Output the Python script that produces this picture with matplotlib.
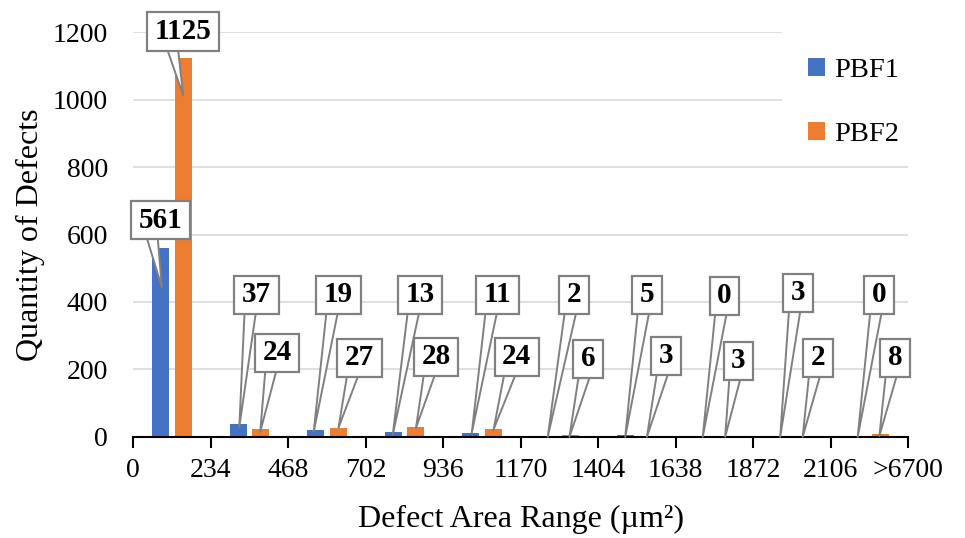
import matplotlib
matplotlib.use("Agg")
import matplotlib.pyplot as plt
import numpy as np
from matplotlib.patches import Rectangle
from matplotlib.path import Path

plt.rcParams['font.family'] = ['Liberation Serif', 'DejaVu Serif']

# bin edges shown on the x axis and defect counts per bin
edge_labels = ['0', '234', '468', '702', '936', '1170', '1404', '1638', '1872', '2106', '>6700']
pbf1 = [561, 37, 19, 13, 11, 2, 5, 0, 3, 0]
pbf2 = [1125, 24, 27, 28, 24, 6, 3, 3, 2, 8]

# callout placement: (box x, box y, tip x, tip y) in data units
pbf1_callouts = [(0.35, 643, 0.37, 444), (1.59, 421, 1.37, 30), (2.65, 421, 2.33, 15),
                 (3.70, 421, 3.35, 6), (4.70, 421, 4.37, 12), (5.69, 421, 5.35, 0),
                 (6.63, 421, 6.35, 0), (7.63, 418, 7.35, 0), (8.58, 427, 8.35, 0),
                 (9.63, 421, 9.35, 0)]
pbf2_callouts = [(0.645, 1203, 0.645, 1013), (1.86, 249, 1.64, 15), (2.92, 234, 2.65, 27),
                 (3.91, 237, 3.65, 27), (4.95, 237, 4.65, 21), (5.87, 231, 5.63, 0),
                 (6.88, 240, 6.63, 0), (7.81, 225, 7.64, 0), (8.84, 234, 8.64, 0),
                 (9.83, 234, 9.63, 3)]

blue = '#4472C4'
orange = '#ED7D31'


def label_box(x0, y0, width, height, mutation_size):
    # rectangle with a little more padding left/right than top/bottom
    px = 0.26 * mutation_size
    py = 0.2 * mutation_size
    x0, y0 = x0 - px, y0 - py
    x1, y1 = x0 + width + 2 * px, y0 + height + 2 * py
    return Path([(x0, y0), (x1, y0), (x1, y1), (x0, y1), (x0, y0)], closed=True)


fig = plt.figure(figsize=(9.65, 5.38), dpi=100)
ax = fig.add_axes([0.138, 0.188, 0.803, 0.752])

x = np.arange(len(pbf1)) + 0.5
w = 0.22
ax.bar(x - 0.145, pbf1, w, color=blue, label='PBF1', zorder=3)
ax.bar(x + 0.145, pbf2, w, color=orange, label='PBF2', zorder=3)

ax.set_xlim(0, 10)
ax.set_ylim(0, 1200)
ax.set_yticks(np.arange(0, 1201, 200))
ax.set_xticks(np.arange(11))
ax.set_xticklabels(edge_labels)
ax.yaxis.grid(True, color='#D9D9D9', linewidth=1.2, zorder=0)
ax.set_axisbelow(True)
for s in ['top', 'right', 'left']:
    ax.spines[s].set_visible(False)
ax.spines['bottom'].set_linewidth(1.5)
ax.spines['bottom'].set_zorder(4)
ax.tick_params(axis='y', length=0, labelsize=20, pad=18)
ax.tick_params(axis='x', length=8, width=1.5, direction='out', labelsize=20, pad=7)

ax.set_ylabel('Quantity of Defects', fontsize=23, labelpad=6)
ax.set_xlabel('Defect Area Range (µm²)', fontsize=23, labelpad=16)

# white panel behind the legend hides the gridlines there
ax.add_patch(Rectangle((0.837, 0.70), 0.2, 0.32, transform=ax.transAxes,
                       facecolor='white', edgecolor='none', zorder=1, clip_on=False))
ax.legend(loc='upper left', bbox_to_anchor=(0.853, 0.972), frameon=False,
          fontsize=20.5, handlelength=0.6, handleheight=0.6, handletextpad=0.3,
          labelspacing=1.38, borderpad=0)


def callout(val, spec):
    bx, by, tx, ty = spec
    ax.annotate(str(val), xy=(tx, ty), xytext=(bx, by), textcoords='data',
                ha='center', va='center', fontsize=21, fontweight='bold',
                annotation_clip=False, zorder=6,
                bbox=dict(boxstyle=label_box, fc='white', ec='#808080', lw=1.6),
                arrowprops=dict(arrowstyle='wedge,tail_width=0.4,shrink_factor=0.5',
                                fc='white', ec='#808080', lw=1.4, relpos=(0.3, 0.0),
                                patchA=None, shrinkA=0, shrinkB=0))


for v, spec in zip(pbf1, pbf1_callouts):
    callout(v, spec)
for v, spec in zip(pbf2, pbf2_callouts):
    callout(v, spec)

fig.savefig('out.png', dpi=100)
